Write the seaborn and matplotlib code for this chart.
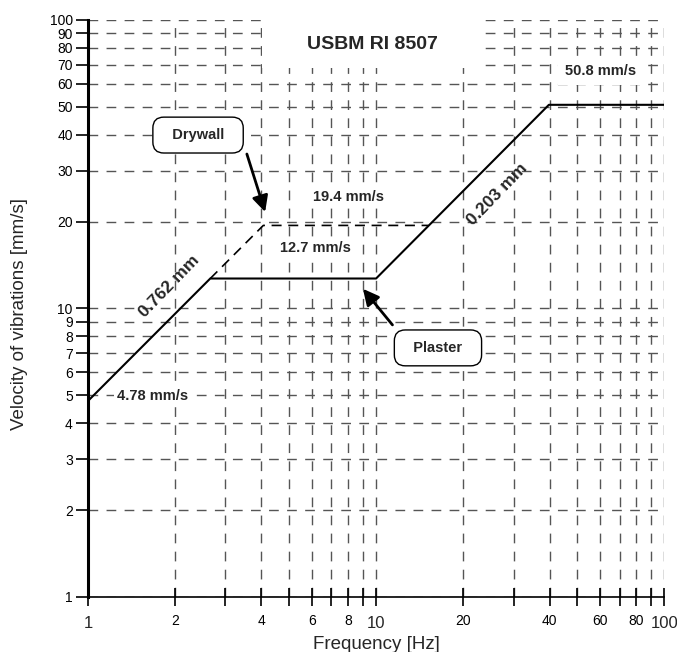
import numpy as np
import pandas as pd
import matplotlib
matplotlib.use("Agg")
import matplotlib.pyplot as plt
import matplotlib.transforms as mtransforms
import seaborn as sns
from matplotlib.patches import Rectangle
from matplotlib.ticker import FixedLocator, FixedFormatter, NullFormatter

# USBM RI 8507 limit curves
plaster_freq = [1, 2.657, 10, 39.8, 100]
plaster_vel = [4.78, 12.7, 12.7, 50.8, 50.8]
drywall_freq = [2.657, 4.06, 15.2]
drywall_vel = [12.7, 19.4, 19.4]

x_major = [1, 2, 4, 6, 8, 10, 20, 40, 60, 80, 100]
x_decades = [1, 10, 100]
x_minor = [3, 5, 7, 9, 30, 50, 70, 90]
y_ticks = [1, 2, 3, 4, 5, 6, 7, 8, 9, 10, 20, 30, 40, 50, 60, 70, 80, 90, 100]

sns.set_style("white")
plt.rcParams['font.family'] = ['Liberation Sans', 'DejaVu Sans']

fig = plt.figure(figsize=(6.77, 6.52), dpi=100)
ax = fig.add_axes([0.130, 0.0844, 0.851, 0.885])

df_p = pd.DataFrame({"f": plaster_freq, "v": plaster_vel})
df_d = pd.DataFrame({"f": drywall_freq, "v": drywall_vel})
sns.lineplot(data=df_p, x="f", y="v", ax=ax, color="black", lw=1.5,
             estimator=None, sort=False, zorder=3)
sns.lineplot(data=df_d, x="f", y="v", ax=ax, color="black", lw=1.2,
             estimator=None, sort=False, linestyle=(0, (6, 4)), zorder=3)

ax.set_xscale("log")
ax.set_yscale("log")
ax.set_xlim(1, 100)
ax.set_ylim(1, 100)

# decade labels (1, 10, 100) are drawn bigger and lower, as separate texts
x_labels = ["" if v in x_decades else str(v) for v in x_major]
ax.xaxis.set_major_locator(FixedLocator(x_major))
ax.xaxis.set_major_formatter(FixedFormatter(x_labels))
ax.xaxis.set_minor_locator(FixedLocator(x_minor))
ax.xaxis.set_minor_formatter(NullFormatter())
ax.yaxis.set_major_locator(FixedLocator(y_ticks))
ax.yaxis.set_major_formatter(FixedFormatter([str(v) for v in y_ticks]))
ax.yaxis.set_minor_locator(FixedLocator([]))

ax.set_axisbelow(True)
ax.grid(True, which="both", color="#555555", lw=1.0, linestyle=(0, (7, 6)))

for s in ["top", "right"]:
    ax.spines[s].set_visible(False)
ax.spines["left"].set_linewidth(2.2)
ax.spines["bottom"].set_linewidth(1.2)
ax.spines["left"].set_color("black")
ax.spines["bottom"].set_color("black")

ax.tick_params(axis="y", which="major", direction="out", length=9, width=1.2,
               labelsize=10, colors="black", left=True, pad=2)
ax.tick_params(axis="x", which="both", direction="inout", length=13, width=1.2,
               labelsize=10, colors="black", bottom=True, pad=6)

down = mtransforms.ScaledTranslation(0, -19 / 100, fig.dpi_scale_trans)
for v in x_decades:
    ax.text(v, 0, str(v), fontsize=12, ha="center", va="top",
            transform=ax.get_xaxis_transform() + down)

ax.set_xlabel("Frequency [Hz]", fontsize=13.5)
ax.xaxis.set_label_coords(0.5, -0.0676)
ax.set_ylabel("Velocity of vibrations [mm/s]", fontsize=13.5)
ax.yaxis.set_label_coords(-0.105, 0.49)

# white area behind the title
ax.add_patch(Rectangle((0.302, 0.917), 0.38, 0.09, transform=ax.transAxes,
                       facecolor="white", edgecolor="none", zorder=1, clip_on=False))
ax.text(9.7, 82, "USBM RI 8507", fontsize=14, fontweight="bold",
        ha="center", va="center", zorder=4)

wbox = dict(facecolor="white", edgecolor="none", pad=2)
ax.text(60, 66.6, "50.8 mm/s", fontsize=10.5, fontweight="bold",
        ha="center", va="center", bbox=dict(facecolor="white", edgecolor="none", pad=5), zorder=4)
ax.text(8.0, 24.3, "19.4 mm/s", fontsize=10.5, fontweight="bold",
        ha="center", va="center", bbox=wbox, zorder=4)
ax.text(6.14, 16.2, "12.7 mm/s", fontsize=10.5, fontweight="bold",
        ha="center", va="center", bbox=wbox, zorder=4)
ax.text(1.67, 4.97, "4.78 mm/s", fontsize=10.5, fontweight="bold",
        ha="center", va="center", bbox=wbox, zorder=4)
ax.text(1.91, 11.9, "0.762 mm", fontsize=12.5, fontweight="bold", rotation=46,
        ha="center", va="center", rotation_mode="anchor", zorder=4)
ax.text(26.3, 24.9, "0.203 mm", fontsize=12.5, fontweight="bold", rotation=46,
        ha="center", va="center", rotation_mode="anchor", zorder=4)

rbox = dict(boxstyle="round,pad=0.75", facecolor="white", edgecolor="black", lw=1)
arrow = dict(arrowstyle="-|>", color="black", lw=2, mutation_scale=24,
             shrinkA=0, shrinkB=0)
ax.text(2.41, 39.9, "  Drywall  ", fontsize=10.5, fontweight="bold",
        ha="center", va="center", bbox=rbox, zorder=5)
ax.annotate("", xy=(4.12, 21.6), xytext=(3.56, 34.3), arrowprops=arrow, zorder=5)
ax.text(16.4, 7.3, "  Plaster  ", fontsize=10.5, fontweight="bold",
        ha="center", va="center", bbox=rbox, zorder=5)
ax.annotate("", xy=(9.0, 11.7), xytext=(11.4, 8.77), arrowprops=arrow, zorder=5)

fig.savefig("out.png", dpi=100)
